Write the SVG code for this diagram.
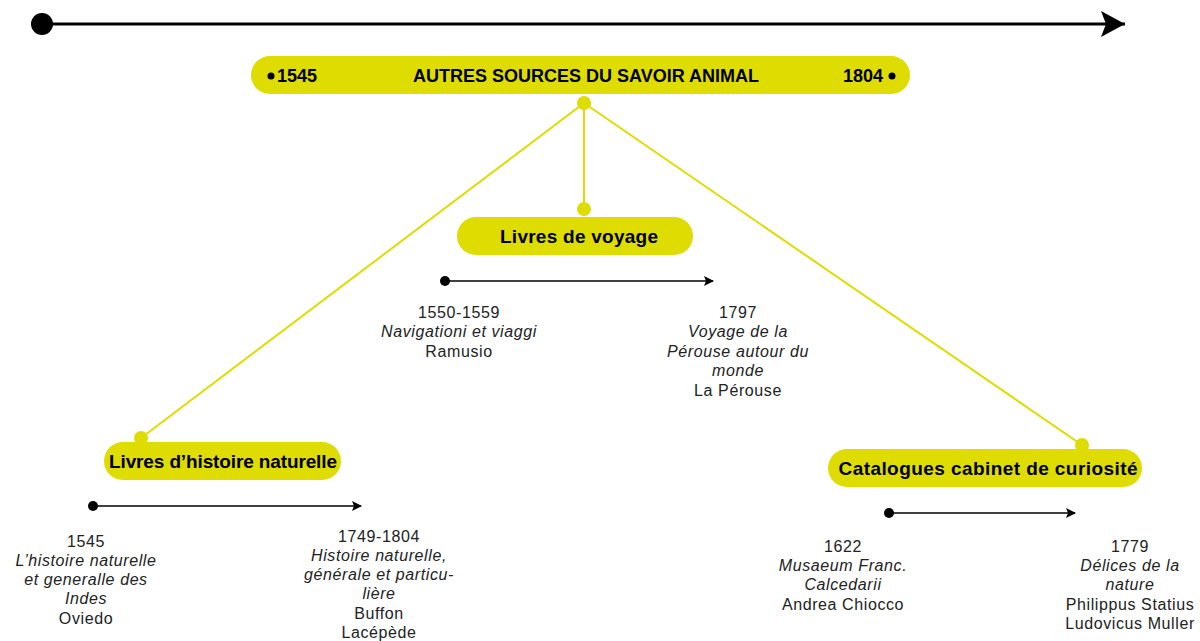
<svg xmlns="http://www.w3.org/2000/svg" width="1200" height="641" viewBox="0 0 1200 641">
<defs>
<style>
.pill{fill:#dedc00}
.ydot{fill:#dedc00}
.conn{stroke:#dedc00;stroke-width:2;fill:none}
.tl{stroke:#000;stroke-width:1.5;fill:none}
.b{font-family:"Liberation Sans",Arial,sans-serif;font-weight:bold;fill:#000}
.t{font-family:"Liberation Sans",Arial,sans-serif;font-size:16px;letter-spacing:0.6px;fill:#222;text-anchor:middle}
.i{font-style:italic}
</style>
<marker id="ah" viewBox="0 0 10 10" refX="9" refY="5" markerWidth="10" markerHeight="10" markerUnits="userSpaceOnUse" orient="auto">
<path d="M0,0 L10,5 L0,10 L2,5 Z" fill="#000"/>
</marker>
<marker id="ahBig" viewBox="0 0 24 26" refX="24" refY="13" markerWidth="24" markerHeight="26" markerUnits="userSpaceOnUse" orient="auto">
<path d="M0,0 L24,13 L0,26 L5,13 Z" fill="#000"/>
</marker>
</defs>
<rect width="1200" height="641" fill="#fff"/>

<g id="main-timeline">
<line x1="42" y1="24" x2="1125" y2="24" stroke="#000" stroke-width="3" marker-end="url(#ahBig)"/>
<circle cx="42" cy="24" r="11" fill="#000"/>
</g>

<g id="connectors">
<line class="conn" x1="584" y1="103" x2="141" y2="438"/>
<line class="conn" x1="584" y1="103" x2="584" y2="209"/>
<line class="conn" x1="584" y1="103" x2="1082" y2="445"/>
</g>

<g id="title">
<rect class="pill" x="251" y="56" width="659" height="38" rx="19"/>
<circle cx="271" cy="76" r="3.5" fill="#000"/>
<text class="b" x="277" y="82" font-size="18">1545</text>
<text class="b" x="586" y="82" font-size="18" text-anchor="middle">AUTRES SOURCES DU SAVOIR ANIMAL</text>
<text class="b" x="883" y="82" font-size="18" text-anchor="end">1804</text>
<circle cx="892" cy="76" r="3.5" fill="#000"/>
<circle class="ydot" cx="584" cy="103" r="7"/>
</g>

<g id="voyage">
<circle class="ydot" cx="584" cy="209" r="7"/>
<rect class="pill" x="457" y="217" width="236" height="38" rx="19"/>
<text class="b" x="579" y="243" font-size="19" text-anchor="middle" textLength="158">Livres de voyage</text>
<line class="tl" x1="445" y1="281" x2="713" y2="281" marker-end="url(#ah)"/>
<circle cx="445" cy="281" r="5" fill="#000"/>
<text class="t" x="459" y="318">1550-1559</text>
<text class="t i" x="459" y="337">Navigationi et viaggi</text>
<text class="t" x="459" y="357">Ramusio</text>
<text class="t" x="738" y="318">1797</text>
<text class="t i" x="738" y="337">Voyage de la</text>
<text class="t i" x="738" y="357">Pérouse autour du</text>
<text class="t i" x="738" y="376">monde</text>
<text class="t" x="738" y="396">La Pérouse</text>
</g>

<g id="histoire">
<circle class="ydot" cx="141" cy="438" r="7"/>
<rect class="pill" x="104" y="442" width="237" height="38" rx="19"/>
<text class="b" x="223" y="468" font-size="19" text-anchor="middle" textLength="228">Livres d’histoire naturelle</text>
<line class="tl" x1="93" y1="506" x2="361" y2="506" marker-end="url(#ah)"/>
<circle cx="93" cy="506" r="5" fill="#000"/>
<text class="t" x="86" y="547">1545</text>
<text class="t i" x="86" y="566">L’histoire naturelle</text>
<text class="t i" x="86" y="585">et generalle des</text>
<text class="t i" x="86" y="604">Indes</text>
<text class="t" x="86" y="624">Oviedo</text>
<text class="t" x="379" y="542">1749-1804</text>
<text class="t i" x="379" y="561">Histoire naturelle,</text>
<text class="t i" x="379" y="580">générale et particu-</text>
<text class="t i" x="379" y="599">lière</text>
<text class="t" x="379" y="619">Buffon</text>
<text class="t" x="379" y="638">Lacépède</text>
</g>

<g id="catalogues">
<circle class="ydot" cx="1082" cy="445" r="7"/>
<rect class="pill" x="828" y="449" width="314" height="38" rx="19"/>
<text class="b" x="988" y="475" font-size="19" text-anchor="middle" textLength="299">Catalogues cabinet de curiosité</text>
<line class="tl" x1="889" y1="513" x2="1075" y2="513" marker-end="url(#ah)"/>
<circle cx="889" cy="513" r="5" fill="#000"/>
<text class="t" x="843" y="552">1622</text>
<text class="t i" x="843" y="571">Musaeum Franc.</text>
<text class="t i" x="843" y="590">Calcedarii</text>
<text class="t" x="843" y="610">Andrea Chiocco</text>
<text class="t" x="1130" y="552">1779</text>
<text class="t i" x="1130" y="571">Délices de la</text>
<text class="t i" x="1130" y="590">nature</text>
<text class="t" x="1130" y="610">Philippus Statius</text>
<text class="t" x="1130" y="629">Ludovicus Muller</text>
</g>
</svg>
